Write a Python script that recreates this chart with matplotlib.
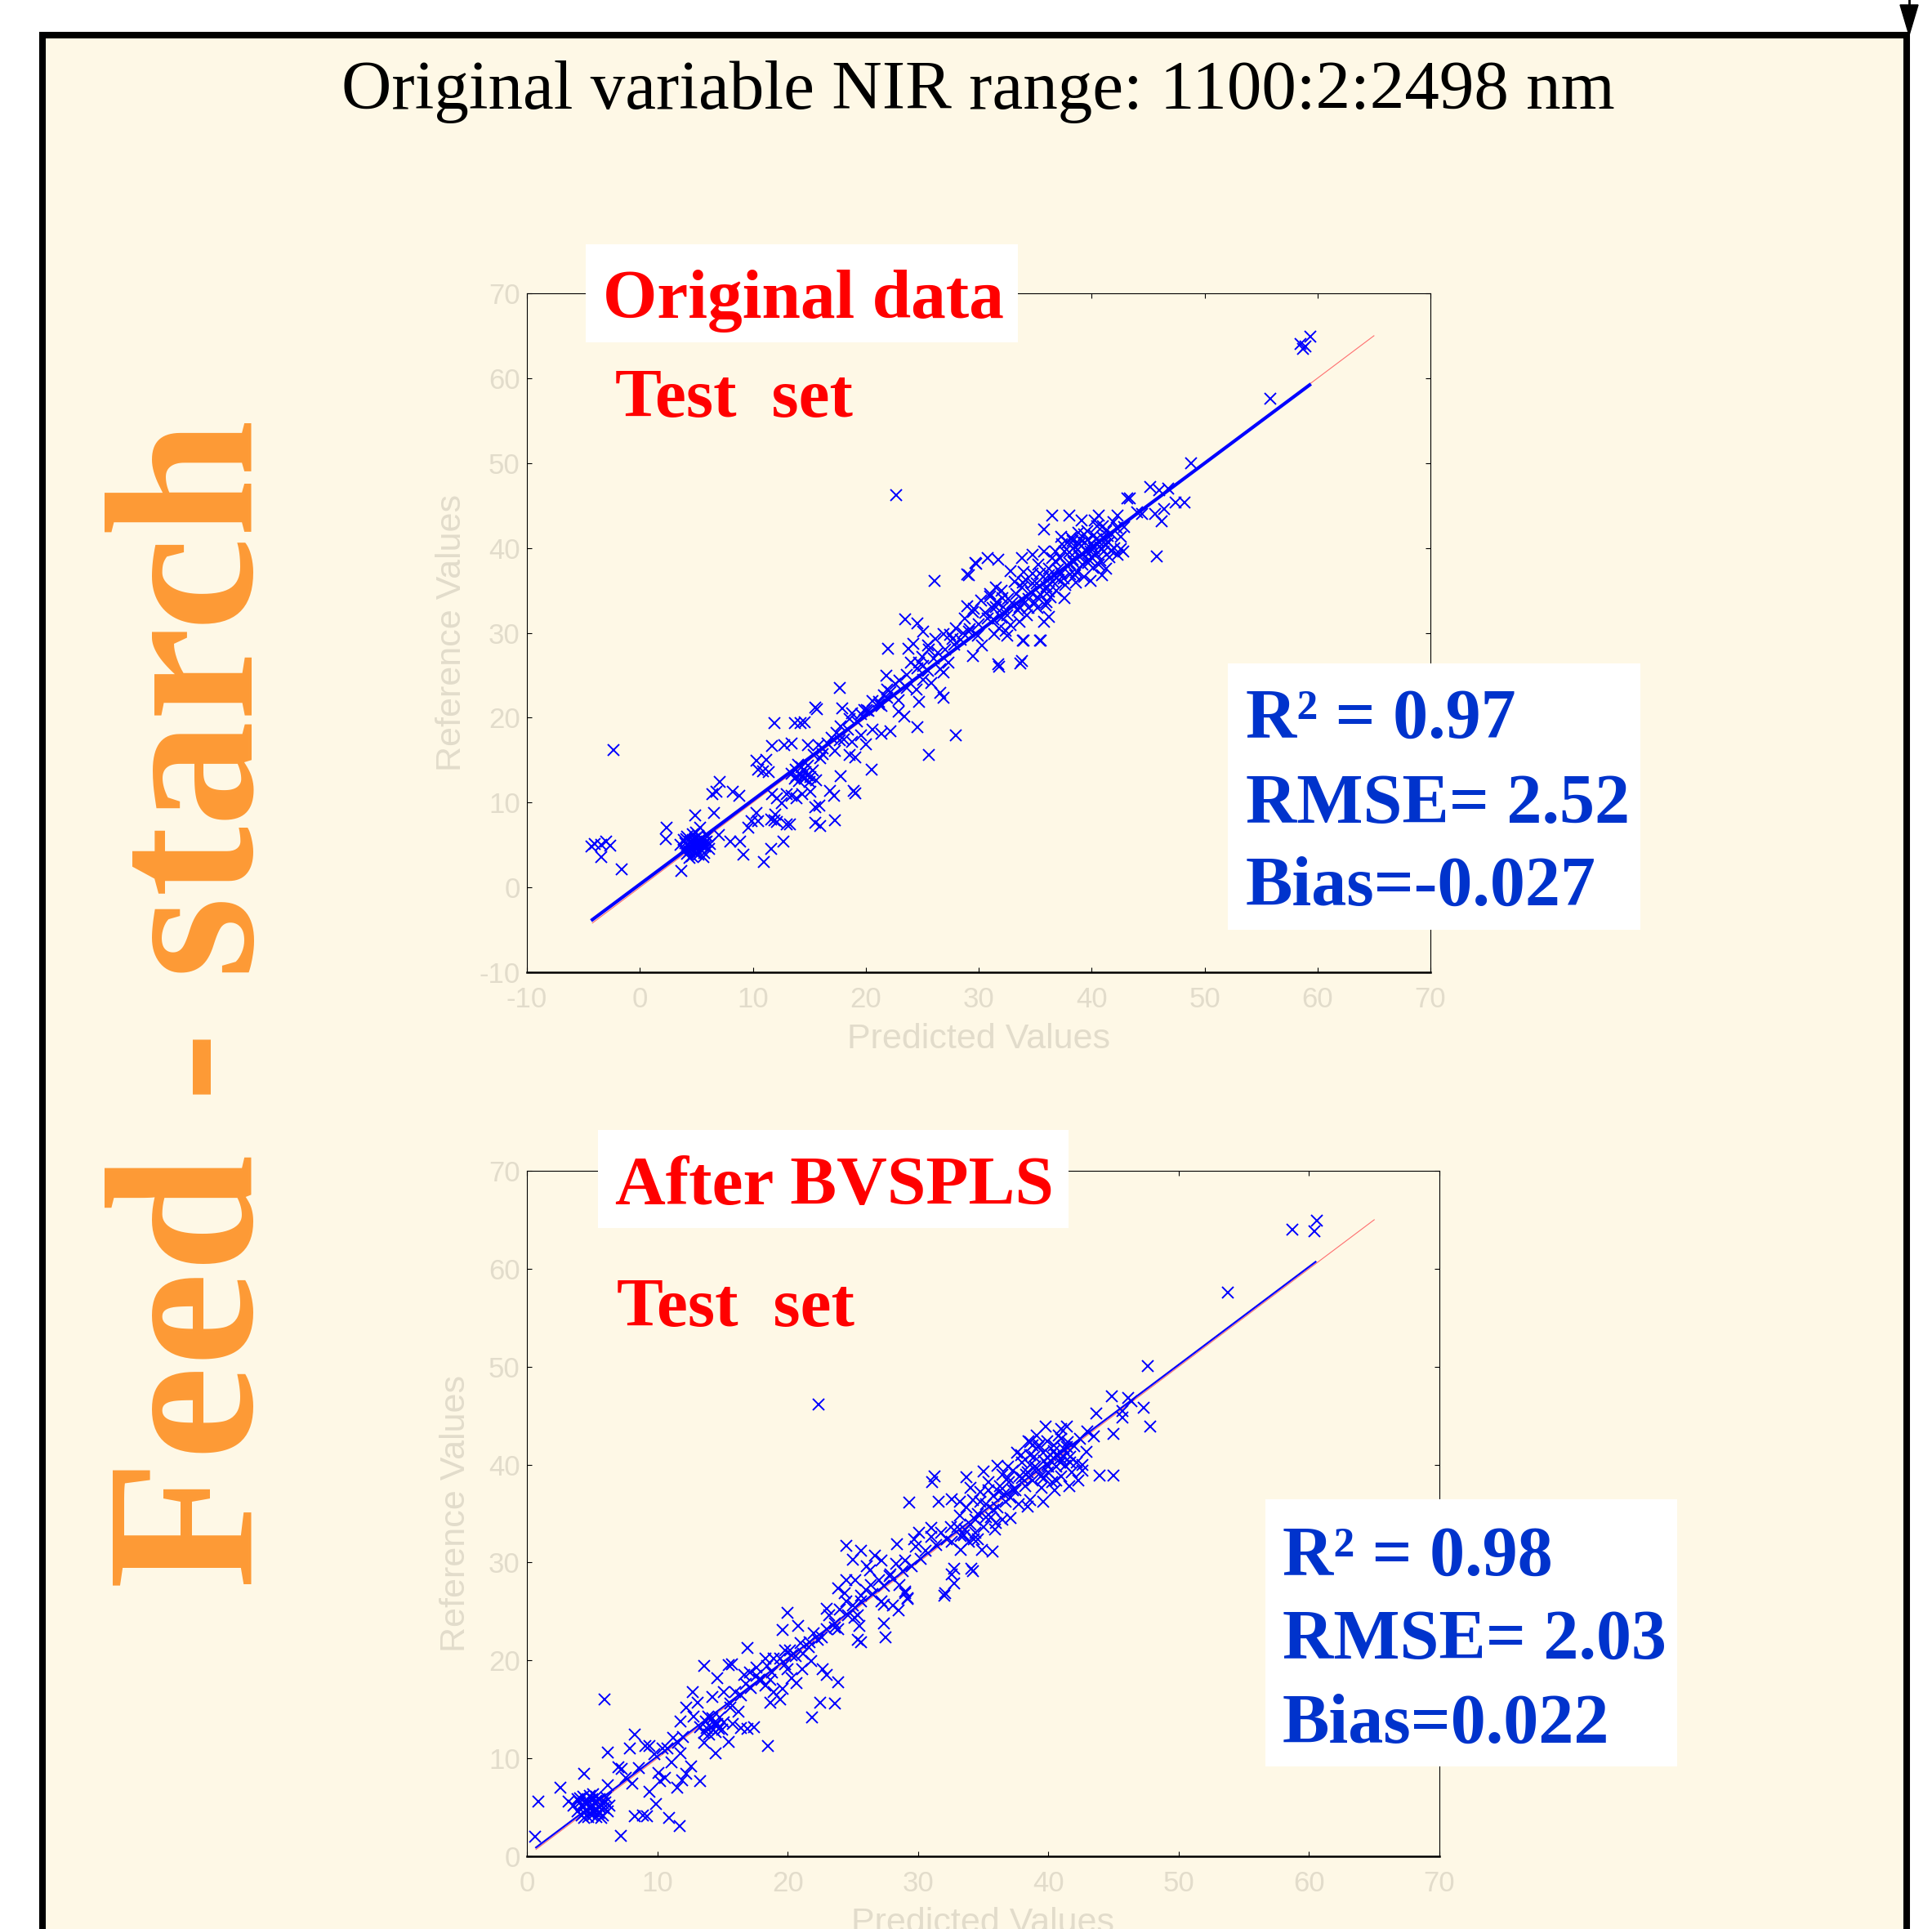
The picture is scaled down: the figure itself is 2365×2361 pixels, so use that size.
import numpy as np
import matplotlib.pyplot as plt
from matplotlib.patches import Rectangle, Polygon

plt.rcParams['font.family'] = 'Liberation Sans'
plt.rcParams['axes.unicode_minus'] = False

W, H = 2365, 2361
cream = '#FEF8E6'
grey_txt = '#E2DCCB'
stat_blue = '#0033CC'

# ---- data: (predicted, reference) ----
# original data, test set
orig_blob_low = [(3.6, 5.0), (3.9, 4.4), (3.9, 5.6), (4.2, 4.0), (4.2, 5.0), (4.2, 6.0), (4.5, 4.6),
                 (4.5, 5.4), (4.6, 3.7), (4.7, 6.3), (4.8, 4.2), (4.8, 5.0), (4.9, 5.8), (5.0, 4.6),
                 (5.1, 5.3), (5.2, 3.9), (5.2, 6.1), (5.4, 4.4), (5.4, 5.0), (5.5, 5.7), (5.7, 4.1),
                 (5.8, 4.8), (5.9, 5.4), (6.1, 4.5), (6.2, 5.1), (4.0, 5.2), (5.0, 6.5), (5.6, 3.6),
                 (6.0, 6.0), (4.4, 3.5), (4.3, 4.8), (4.6, 5.1), (4.9, 4.7), (5.1, 5.0), (5.3, 5.6),
                 (5.6, 4.9), (4.7, 5.6), (5.8, 5.3), (4.4, 4.2), (5.5, 4.3), (5.0, 4.0), (4.1, 5.7)]
orig_blob_mid = [(13.4, 13.4), (13.7, 12.8), (13.8, 13.9), (14.1, 12.5), (14.2, 13.3), (14.3, 14.2),
                 (14.6, 12.8), (14.7, 13.6), (14.9, 14.4), (15.1, 13.0), (15.3, 13.8), (15.6, 12.6),
                 (15.0, 12.4), (14.0, 14.5), (14.4, 13.0), (14.8, 13.2), (14.5, 13.9), (13.9, 13.1)]
orig_blob_high = [(37.0, 37.5), (37.2, 38.8), (37.5, 36.4), (37.8, 37.9), (38.0, 39.5), (38.1, 36.9),
                  (38.4, 38.3), (38.5, 40.2), (38.7, 37.2), (38.9, 39.0), (39.0, 41.0), (39.2, 38.0),
                  (39.3, 36.6), (39.5, 39.8), (39.6, 42.0), (39.8, 38.6), (40.0, 40.5), (40.1, 37.7),
                  (40.2, 41.5), (40.4, 39.3), (40.5, 42.6), (40.7, 40.2), (40.8, 38.5), (41.0, 41.2),
                  (41.1, 39.6), (41.3, 42.0), (41.5, 40.6), (41.6, 38.9), (41.8, 41.6), (42.0, 40.0),
                  (42.2, 42.4), (42.3, 39.2), (40.3, 43.2), (39.4, 40.6), (38.2, 41.2), (41.9, 43.0),
                  (42.6, 41.3), (40.9, 36.8), (36.8, 39.6), (37.4, 40.4),
                  (38.6, 39.6), (38.9, 40.4), (39.1, 39.3), (39.3, 41.6), (39.6, 40.9), (39.9, 39.6),
                  (40.2, 40.0), (40.4, 41.0), (40.6, 40.7), (40.9, 39.9), (41.2, 40.4), (41.4, 41.4),
                  (39.7, 38.2), (40.0, 38.9), (40.6, 38.0), (41.7, 39.7), (38.3, 38.6), (37.9, 40.6),
                  (38.8, 41.8), (41.0, 42.6), (36.2, 36.8), (36.5, 38.8), (37.1, 36.2), (37.7, 35.6),
                  (38.6, 35.9), (35.4, 37.0), (34.8, 35.8), (34.4, 34.0), (33.6, 33.0), (35.2, 34.2),
                  (35.8, 35.0), (36.0, 33.6), (34.0, 37.2), (33.2, 36.0), (37.3, 37.0), (38.0, 38.2),
                  (33.0, 33.5), (33.3, 34.6), (33.5, 32.6), (33.8, 35.3), (34.0, 33.8), (34.2, 36.2),
                  (34.4, 32.9), (34.6, 34.8), (34.8, 37.0), (35.0, 33.5), (35.1, 35.8), (35.3, 38.0),
                  (35.5, 34.5), (35.7, 36.6), (35.9, 33.2), (36.0, 35.4), (36.2, 37.6), (36.4, 34.2),
                  (36.6, 36.0), (36.8, 38.4), (36.9, 35.0), (32.6, 34.0), (32.2, 33.0), (32.0, 35.0),
                  (31.6, 33.6)]
orig_scatter = [(-4.3, 4.8), (-4.0, 5.1), (-3.4, 5.0), (-3.0, 5.4), (-2.6, 4.9), (-3.4, 3.6), (-1.6, 2.1),
                (-2.35, 16.2), (2.4, 7.0), (2.3, 5.7), (3.7, 1.9), (4.9, 8.5), (5.3, 7.0), (6.6, 8.8),
                (7.1, 12.4), (6.4, 11.0), (6.8, 11.3), (8.2, 11.3), (8.8, 10.8), (7.0, 6.2), (8.0, 5.4),
                (8.9, 5.4), (9.2, 3.9), (11.0, 3.0), (11.6, 4.5), (12.7, 5.4), (9.6, 7.0), (9.9, 7.8),
                (10.3, 8.8), (10.5, 7.8), (11.6, 8.0), (12.0, 8.6), (13.0, 7.4), (15.5, 7.6), (15.9, 9.6),
                (17.3, 7.9), (11.9, 7.9), (12.1, 7.7), (13.3, 7.4),
                (10.3, 14.9), (11.2, 15.0), (11.7, 16.7), (11.9, 19.4), (10.5, 13.9), (10.9, 13.7),
                (11.4, 13.6), (12.8, 16.8), (13.4, 17.0), (14.2, 19.4), (14.9, 16.8), (15.5, 21.2),
                (11.7, 11.0), (12.1, 10.5), (12.6, 9.9), (13.0, 11.0), (13.4, 10.8), (13.9, 10.5),
                (14.4, 11.0), (15.1, 11.3), (15.5, 9.4), (16.0, 7.2), (16.8, 11.4), (17.2, 10.8),
                (18.9, 11.4), (19.1, 11.1), (17.8, 13.1), (18.6, 15.6), (19.1, 15.3), (18.1, 17.4),
                (18.8, 17.1), (19.6, 17.9), (20.0, 16.9), (20.5, 13.9), (20.6, 18.6), (21.4, 18.1),
                (22.2, 18.4), (20.1, 20.9), (21.4, 21.4), (22.9, 20.7), (23.4, 20.1), (24.6, 18.9),
                (25.6, 15.6), (28.0, 17.9), (16.2, 15.7), (17.3, 16.1), (17.7, 17.3), (14.6, 19.5),
                (13.7, 19.4), (15.7, 21.0), (17.9, 21.1), (17.7, 23.5), (18.8, 20.5), (19.9, 20.9),
                (21.2, 21.9), (21.9, 22.3), (21.8, 24.9), (21.9, 23.3), (22.9, 22.1), (23.6, 23.5),
                (24.7, 21.9), (24.5, 23.3), (25.1, 24.5), (25.8, 24.1), (26.6, 22.9), (26.9, 22.3),
                (24.7, 26.5), (25.1, 26.1), (25.5, 25.5), (26.6, 25.7), (26.9, 25.3), (27.3, 26.5),
                (22.0, 28.1), (23.8, 28.1), (24.2, 28.7), (23.5, 31.6), (24.6, 31.1), (25.1, 30.1),
                (26.1, 36.1), (25.5, 28.5), (26.2, 29.3), (26.9, 29.9), (27.7, 29.3), (28.0, 30.5),
                (29.1, 30.1), (28.8, 31.7), (29.5, 32.5), (29.0, 33.1), (29.0, 36.9), (29.7, 38.2),
                (30.8, 38.8), (31.7, 38.6), (29.5, 27.3), (31.7, 26.3), (33.8, 26.7), (30.3, 28.5),
                (29.9, 29.7), (30.8, 31.7), (31.2, 32.9), (31.0, 34.3), (31.5, 35.3), (32.1, 34.1),
                (32.5, 32.1), (31.4, 29.9), (32.5, 29.7), (32.8, 30.9), (33.9, 29.1), (35.4, 29.1),
                (33.6, 31.3), (34.3, 32.1), (35.2, 32.9), (35.8, 31.3), (36.2, 31.9), (33.9, 35.9),
                (32.8, 37.3), (33.8, 38.8), (34.8, 39.2), (35.8, 39.6), (35.8, 42.2), (29.8, 38.1),
                (29.1, 36.8), (31.8, 26.0), (33.7, 26.4), (35.5, 29.1), (34.0, 29.1),
                (36.5, 43.8), (38.0, 43.8), (39.1, 43.2), (40.6, 43.8), (42.3, 43.8), (43.2, 45.8),
                (45.2, 47.2), (45.6, 44.0), (44.5, 44.0), (45.8, 39.0), (42.8, 39.6), (41.3, 37.6),
                (37.6, 39.6), (36.9, 36.5), (36.2, 34.9), (37.6, 34.1), (43.4, 45.8), (47.4, 45.4),
                (48.2, 45.4), (46.4, 44.6), (46.2, 43.1), (44.0, 44.2), (46.0, 46.8), (46.8, 47.0),
                (48.8, 50.0), (55.8, 57.6), (58.5, 64.0), (58.9, 63.7), (59.4, 64.9), (58.7, 63.5),
                (37.3, 41.3), (38.3, 40.8), (42.9, 42.5), (42.6, 39.9), (39.9, 36.1), (22.7, 46.2),
                (38.5, 36.8),
                (30.2, 33.8), (30.6, 32.4), (31.0, 34.6), (31.3, 31.6), (31.5, 33.0), (31.8, 30.5),
                (32.0, 31.8), (32.4, 30.2), (30.0, 31.0), (29.6, 32.8), (29.2, 30.4), (28.6, 30.0),
                (28.4, 29.2), (27.8, 28.6), (27.5, 29.8), (27.0, 28.0), (26.4, 27.6), (26.0, 27.0),
                (25.6, 28.0), (25.0, 27.2), (24.6, 25.8), (24.0, 26.5), (23.6, 25.0), (23.0, 24.4),
                (22.6, 24.0), (22.2, 23.0), (21.6, 22.6), (21.2, 21.6), (20.6, 22.0), (20.2, 20.8),
                (19.6, 20.4), (19.2, 19.6), (18.6, 19.8), (18.4, 18.6), (17.8, 19.0), (17.4, 18.2),
                (17.0, 17.6), (16.6, 17.0), (16.2, 16.4), (15.8, 16.8), (15.4, 15.6), (16.0, 15.2)]
orig_fit_x = [-4.2, 59.3]
orig_fit_y = [-3.8, 59.2]
orig_ideal = [-4.2, 65.0]

# after BVSPLS, test set
bv_blob_low = [(3.6, 5.2), (3.9, 4.6), (3.9, 5.8), (4.2, 4.2), (4.2, 5.2), (4.3, 6.1), (4.5, 4.7),
               (4.5, 5.6), (4.7, 4.0), (4.8, 6.2), (4.8, 4.4), (4.9, 5.1), (5.0, 5.8), (5.1, 4.6),
               (5.2, 5.4), (5.3, 4.0), (5.3, 6.1), (5.5, 4.5), (5.5, 5.1), (5.6, 5.8), (5.8, 4.2),
               (5.9, 4.9), (6.0, 5.5), (6.2, 4.6), (6.3, 5.2), (4.1, 5.5), (5.1, 6.3), (5.7, 3.9),
               (6.1, 6.0), (4.4, 3.9), (4.3, 5.0), (4.6, 5.3), (4.9, 4.8), (5.1, 5.2), (5.3, 5.7),
               (5.6, 5.0), (4.7, 5.6), (5.8, 5.4), (4.4, 4.4), (5.5, 4.4), (5.0, 4.2), (4.1, 5.9)]
bv_blob_mid = [(13.3, 13.2), (13.6, 12.6), (13.7, 13.8), (14.0, 12.4), (14.1, 13.2), (14.2, 14.1),
               (14.5, 12.7), (14.6, 13.5), (14.8, 14.2), (15.0, 12.9), (15.1, 13.7), (14.3, 12.9),
               (13.9, 14.3), (14.4, 13.4), (14.7, 13.0), (13.8, 13.1)]
bv_blob_high = [(37.0, 38.2), (37.3, 39.4), (37.5, 37.4), (37.8, 38.8), (38.0, 40.2), (38.2, 37.8),
                (38.4, 39.2), (38.6, 41.0), (38.8, 38.4), (39.0, 39.8), (39.2, 41.8), (39.4, 38.8),
                (39.5, 37.6), (39.7, 40.4), (39.9, 42.4), (40.0, 39.2), (40.2, 41.0), (40.3, 38.2),
                (40.4, 42.0), (40.6, 39.8), (40.8, 43.0), (40.9, 40.6), (41.0, 38.8), (41.2, 41.6),
                (41.3, 39.9), (41.5, 42.3), (41.7, 40.8), (41.8, 39.2), (42.0, 41.9), (42.2, 40.2),
                (42.4, 42.6), (39.1, 43.0), (38.5, 42.4), (40.5, 37.4), (41.6, 37.8), (42.6, 39.4),
                (36.6, 37.0), (36.9, 39.8), (37.6, 41.2), (41.0, 43.6),
                (38.6, 40.0), (38.9, 40.8), (39.1, 39.6), (39.3, 42.0), (39.6, 41.2), (39.9, 40.0),
                (40.2, 40.4), (40.4, 41.4), (40.6, 41.0), (40.9, 40.2), (41.2, 40.8), (41.4, 41.8),
                (39.7, 38.6), (40.0, 39.8), (40.6, 38.4), (41.7, 40.2), (38.3, 39.0), (37.9, 41.0),
                (38.8, 42.0), (41.0, 42.6), (36.2, 37.2), (36.5, 39.0), (37.1, 36.6), (37.7, 36.0),
                (38.6, 36.4), (35.4, 37.4), (34.8, 36.2), (34.4, 34.4), (33.6, 33.4), (35.2, 34.6),
                (35.8, 35.4), (36.0, 34.0), (34.0, 37.6), (33.2, 36.2), (37.3, 37.4), (38.0, 38.6),
                (33.0, 33.6), (33.2, 34.8), (33.5, 32.8), (33.7, 35.6), (34.0, 33.9), (34.2, 36.4),
                (34.4, 33.0), (34.6, 35.0), (34.8, 37.2), (35.0, 33.6), (35.2, 36.0), (35.4, 38.2),
                (35.6, 34.6), (35.8, 36.8), (35.9, 33.4), (36.1, 35.6), (36.3, 37.8), (36.5, 34.4),
                (36.7, 36.2), (36.9, 38.6), (32.5, 33.6), (32.2, 32.4), (31.8, 33.0), (31.4, 31.8),
                (31.0, 32.6), (30.6, 31.2), (30.2, 30.4), (29.8, 31.6), (29.5, 29.6), (29.0, 30.2)]
bv_scatter = [(0.6, 2.0), (0.9, 5.6), (2.6, 7.0), (4.4, 8.4), (6.2, 7.3), (3.2, 5.6), (7.2, 2.1),
              (6.2, 10.6), (5.95, 16.0), (8.3, 12.4), (7.9, 11.0), (9.1, 11.3), (9.4, 11.3), (7.0, 9.1),
              (7.3, 8.9), (8.1, 7.4), (8.3, 4.1), (8.9, 4.2), (9.2, 4.1), (9.4, 6.6), (9.9, 5.3),
              (10.9, 3.9), (11.7, 3.1), (10.1, 8.5), (10.6, 8.0), (10.2, 7.7), (10.4, 11.0), (11.2, 12.1),
              (11.8, 10.5), (11.5, 7.0), (11.9, 7.8), (12.6, 9.2), (12.2, 8.4), (13.3, 7.7), (11.1, 9.6),
              (11.8, 13.8), (12.2, 15.2), (12.7, 16.8), (13.1, 15.7), (12.8, 14.3), (13.6, 11.6),
              (14.5, 10.5), (13.6, 19.4), (14.6, 18.2), (15.5, 19.5), (15.7, 19.6), (14.2, 16.3),
              (15.1, 16.8), (15.6, 15.2), (16.2, 14.8), (15.8, 13.5), (16.4, 13.1), (16.9, 13.0),
              (17.4, 13.2), (15.5, 11.7), (18.5, 11.3), (16.9, 21.3), (18.3, 20.2), (18.9, 20.2),
              (17.1, 18.8), (17.6, 19.3), (16.7, 18.5), (17.8, 18.0), (18.3, 17.4), (18.7, 18.0),
              (18.7, 15.7), (19.4, 16.0), (18.9, 16.8), (19.6, 17.1), (20.0, 19.1), (20.3, 18.2),
              (20.7, 17.7), (21.1, 19.1), (21.8, 19.9), (22.7, 19.1), (23.0, 18.5), (23.9, 17.8),
              (22.5, 15.7), (23.6, 15.6), (21.9, 14.2), (20.0, 24.9), (19.6, 23.1), (20.8, 23.5),
              (19.8, 21.0), (20.3, 20.5), (21.2, 20.7), (21.7, 21.9), (22.3, 22.1), (23.0, 25.3),
              (23.2, 24.6), (23.6, 23.4), (23.9, 23.2), (24.5, 31.7), (25.0, 30.3), (25.6, 31.2),
              (26.7, 30.7), (27.2, 30.2), (26.1, 29.6), (26.3, 29.2), (23.9, 27.4), (24.5, 28.2),
              (25.2, 28.2), (24.4, 26.9), (24.5, 26.0), (25.6, 26.6), (25.1, 24.4), (25.4, 24.6),
              (25.5, 23.5), (25.4, 22.1), (25.6, 21.9), (27.4, 23.8), (27.5, 22.4), (26.4, 27.7),
              (27.2, 26.0), (27.4, 25.7), (28.1, 25.6), (28.4, 31.9), (28.3, 29.9), (28.8, 29.1),
              (27.9, 28.8), (28.6, 27.7), (29.0, 26.9), (29.2, 26.3), (29.7, 32.4), (30.1, 33.0),
              (31.0, 33.5), (32.1, 26.9), (32.8, 29.4), (32.6, 28.8), (34.1, 29.4), (33.3, 31.3),
              (33.9, 32.1), (34.6, 32.4), (22.4, 46.1),
              (60.6, 64.9), (60.4, 63.8), (58.7, 64.0), (53.8, 57.6), (47.6, 50.1), (44.9, 47.0),
              (46.1, 46.8), (46.4, 46.5), (47.3, 45.8), (45.7, 45.5), (45.7, 44.8), (43.7, 45.2),
              (47.8, 43.9), (45.0, 43.1), (43.0, 43.4), (43.5, 42.9), (43.9, 38.9), (45.0, 38.9),
              (42.3, 38.4), (39.8, 43.9), (41.4, 43.9), (38.6, 42.3), (42.9, 41.3), (42.6, 40.0),
              (36.1, 39.9), (35.0, 39.3), (33.7, 38.7), (31.3, 38.8), (31.1, 38.2), (29.3, 36.1),
              (31.6, 36.2), (32.6, 36.5), (32.6, 32.1), (33.3, 32.7), (34.3, 32.4), (34.9, 31.3),
              (35.7, 31.1), (34.2, 29.1), (32.8, 27.9), (32.0, 26.6), (28.5, 25.1), (29.0, 27.0),
              (29.2, 26.4), (37.1, 34.5), (38.4, 35.7), (39.6, 36.2),
              (27.8, 28.6), (27.4, 27.6), (27.0, 28.2), (26.5, 26.8), (26.0, 27.2), (25.6, 26.0),
              (25.0, 25.6), (24.6, 24.6), (24.0, 25.2), (23.6, 23.8), (23.0, 23.2), (22.6, 22.4),
              (22.0, 22.8), (21.6, 21.4), (21.0, 21.8), (20.6, 20.4), (20.2, 21.0), (19.8, 19.6),
              (19.4, 20.2), (18.8, 18.8), (18.4, 19.4), (18.0, 18.0), (17.6, 18.4), (17.2, 17.2),
              (16.8, 17.6), (16.4, 16.4), (16.0, 16.8), (15.6, 15.6), (12.0, 12.2), (11.6, 11.6),
              (10.8, 11.0), (9.8, 10.4), (8.6, 9.0), (7.6, 8.0)]
bv_fit_x = [0.7, 60.5]
bv_fit_y = [0.9, 60.7]
bv_ideal = [0.7, 65.0]

orig_stats = ['R² = 0.97', 'RMSE= 2.52', 'Bias=-0.027']
bv_stats = ['R² = 0.98', 'RMSE= 2.03', 'Bias=0.022']


def fx(px):
    return px / W


def fy(py):
    return 1 - py / H


fig = plt.figure(figsize=(W / 100, H / 100), dpi=100, facecolor='white')

# cream page with thick black frame (bottom runs off the picture)
fig.patches.append(Rectangle((fx(52), -0.05), fx(2334) - fx(52), fy(43) + 0.05,
                             transform=fig.transFigure, facecolor=cream,
                             edgecolor='black', lw=5.8, zorder=-5))
fig.lines.append(plt.Line2D([fx(2337), fx(2337)], [fy(0), fy(10)], transform=fig.transFigure,
                            color='black', lw=2))
fig.patches.append(Polygon([(fx(2326), fy(6)), (fx(2348), fy(6)), (fx(2337), fy(43))],
                           closed=True, transform=fig.transFigure, facecolor='black',
                           edgecolor='black', zorder=5))

fig.text(fx(1197), fy(133), 'Original variable NIR range: 1100:2:2498 nm', ha='center',
         va='baseline', fontsize=61.2, family='Liberation Serif', color='black')

fig.text(fx(309), fy(1229), 'Feed - starch', rotation=90, rotation_mode='anchor',
         ha='center', va='baseline', fontsize=186, fontweight='bold',
         family='Liberation Serif', color='#FD9A35')


def panel(left, right, top, bottom, lo, groups, fit_x, fit_y, ideal, fit_lw, ylab_pad):
    ax = fig.add_axes([fx(left), fy(bottom), fx(right) - fx(left), (bottom - top) / H])
    ax.set_facecolor('none')
    ax.plot(ideal, ideal, color='#FF6F6F', lw=0.8, zorder=1)
    for g in groups:
        ax.plot([p[0] for p in g], [p[1] for p in g], 'x', color='blue', ms=10, mew=1.4,
                zorder=2)
    ax.plot(fit_x, fit_y, color='blue', lw=fit_lw, zorder=3)
    ax.set_xlim(lo, 70)
    ax.set_ylim(lo, 70)
    ax.set_xticks(range(lo, 71, 10))
    ax.set_yticks(range(lo, 71, 10))
    ax.tick_params(direction='in', length=4.5, width=0.8, color='black', labelcolor=grey_txt,
                   labelsize=25, top=True, right=True)
    ax.tick_params(axis='x', pad=12)
    ax.tick_params(axis='y', pad=6)
    for s in ax.spines.values():
        s.set_color('black')
        s.set_linewidth(0.8)
    ax.spines['bottom'].set_linewidth(1.8)
    ax.set_xlabel('Predicted Values', fontsize=31, color=grey_txt, labelpad=9)
    ax.set_ylabel('Reference Values', fontsize=31, color=grey_txt, labelpad=ylab_pad)
    return ax


def label_box(x0, x1, y0, y1):
    fig.patches.append(Rectangle((fx(x0), fy(y1)), fx(x1) - fx(x0), (y1 - y0) / H,
                                 transform=fig.transFigure, facecolor='white',
                                 edgecolor='none', zorder=4))


def serif(x, y, s, color, size):
    fig.text(fx(x), fy(y), s, ha='left', va='baseline', fontsize=size, fontweight='bold',
             family='Liberation Serif', color=color, zorder=6)


panel(645, 1751, 359, 1190, -10, [orig_scatter, orig_blob_low, orig_blob_mid, orig_blob_high],
      orig_fit_x, orig_fit_y, orig_ideal, 3.0, 10)
panel(645, 1762, 1433, 2272, 0, [bv_scatter, bv_blob_low, bv_blob_mid, bv_blob_high],
      bv_fit_x, bv_fit_y, bv_ideal, 1.6, 14)

label_box(717, 1246, 299, 419)
serif(738, 389, 'Original data', 'red', 61.5)
serif(753, 510, 'Test  set', 'red', 61.5)

label_box(732, 1308, 1383, 1503)
serif(753, 1474, 'After BVSPLS', 'red', 61.5)
serif(755, 1623, 'Test  set', 'red', 61.5)

label_box(1503, 2008, 812, 1138)
for i, s in enumerate(orig_stats):
    serif(1525, [903, 1007, 1108][i], s, stat_blue, 62)

label_box(1549, 2053, 1835, 2162)
for i, s in enumerate(bv_stats):
    serif(1570, [1928, 2030, 2133][i], s, stat_blue, 62)

fig.savefig('out.png', dpi=100, facecolor='white')
